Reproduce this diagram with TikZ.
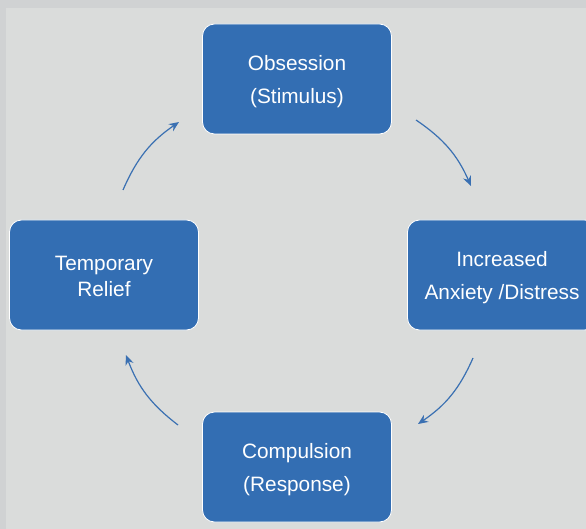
\documentclass[tikz,border=0pt]{standalone}
\usepackage{fontspec}
\setmainfont{Liberation Sans}
\usetikzlibrary{arrows.meta}
\definecolor{outerbg}{RGB}{208,210,211}
\definecolor{innerbg}{RGB}{218,220,219}
\definecolor{boxblue}{RGB}{51,110,179}
\definecolor{arrowblue}{RGB}{58,112,178}
\tikzset{
  stagebox/.style={draw=white, line width=0.8pt, fill=boxblue, rounded corners=12pt,
    minimum width=189pt, minimum height=110pt, inner sep=0pt},
  stagetext/.style={inner sep=0pt, text=white,
    font=\fontsize{20.8pt}{33pt}\selectfont, align=center},
  cyclearrow/.style={draw=arrowblue, line width=1.2pt, -{Stealth[length=10pt,width=8.5pt]}, bend left=16},
}
\begin{document}
\begin{tikzpicture}[x=1pt,y=-1pt]
\useasboundingbox (0,0) rectangle (586,529);
\clip (0,0) rectangle (586,529);
\fill[outerbg] (0,0) rectangle (586,529);
\fill[innerbg] (6,8) rectangle (586,529);
\node[stagebox] (obs) at (297,79) {};
\node[stagebox] (anx) at (502,275) {};
\node[stagebox] (com) at (297,467) {};
\node[stagebox] (rel) at (104,275) {};
\node[stagetext] (obst) at ([yshift=-3pt]obs.center) {Obsession\\(Stimulus)};
\node[stagetext] (anxt) at ([yshift=-2.5pt]anx.center) {Increased\\Anxiety /Distress};
\node[stagetext] (comt) at ([yshift=-3pt]com.center) {Compulsion\\(Response)};
\node[stagetext, font=\fontsize{20.8pt}{26pt}\selectfont] (relt) at ([yshift=-1pt]rel.center) {Temporary\\Relief};
\coordinate (a1s) at (416,120);
\coordinate (a1e) at (471,186);
\coordinate (a2s) at (473,358);
\coordinate (a2e) at (418,424);
\coordinate (a3s) at (178,425);
\coordinate (a3e) at (126,355);
\coordinate (a4s) at (123,190);
\coordinate (a4e) at (179,122);
\draw[cyclearrow] (a1s) to (a1e);
\draw[cyclearrow] (a2s) to (a2e);
\draw[cyclearrow] (a3s) to (a3e);
\draw[cyclearrow] (a4s) to (a4e);
\end{tikzpicture}
\end{document}
